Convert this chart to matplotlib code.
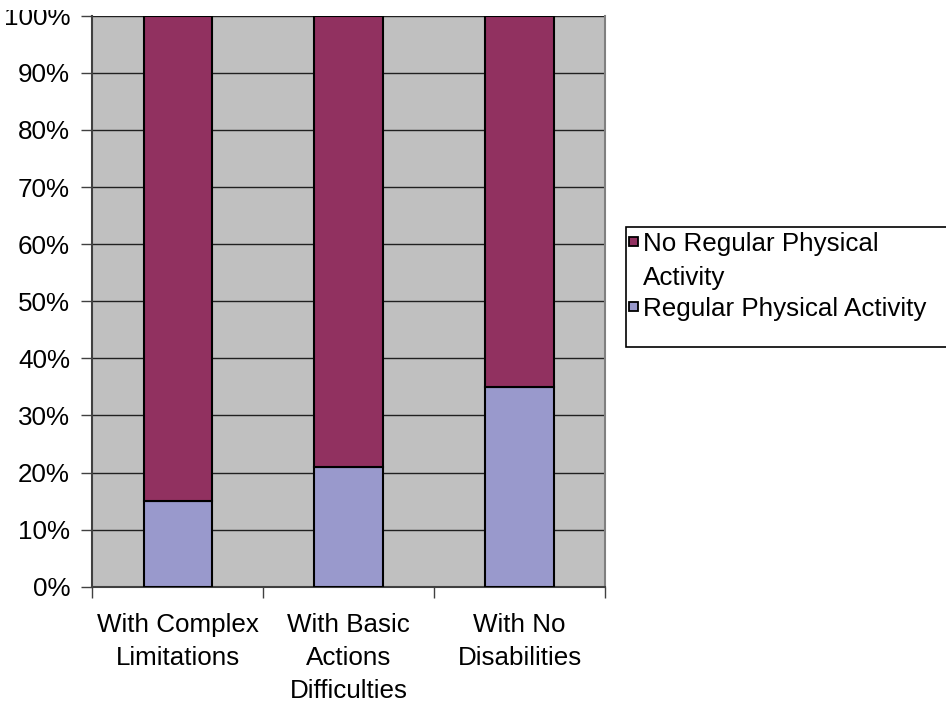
import matplotlib.pyplot as plt
import numpy as np
from matplotlib.patches import Rectangle

# Share of adults by disability status
groups = ["With Complex\nLimitations", "With Basic\nActions\nDifficulties", "With No\nDisabilities"]
regular = [15, 21, 35]
no_regular = [85, 79, 65]
series_names = ["No Regular Physical\nActivity", "Regular Physical Activity"]
series_colors = ["#913160", "#9999cc"]

plt.rcParams['font.family'] = ['Liberation Sans', 'DejaVu Sans']
fs = 18.7
W, H = 946, 702

fig = plt.figure(figsize=(W / 100, H / 100), dpi=100)
ax = fig.add_axes([92.3 / W, 1 - 586.7 / H, (605 - 92.3) / W, (586.7 - 15.7) / H])
ax.set_facecolor("#c0c0c0")

x = np.arange(len(groups))
ax.bar(x, regular, width=0.4, color=series_colors[1], edgecolor="black", linewidth=1.5, zorder=3)
ax.bar(x, no_regular, width=0.4, bottom=regular, color=series_colors[0], edgecolor="black",
       linewidth=1.5, zorder=3)

ax.set_xlim(-0.5, len(groups) - 0.5)
ax.set_ylim(0, 100)
ax.set_yticks(np.arange(0, 101, 10))
ax.set_yticklabels([f"{v}%" for v in range(0, 101, 10)], fontsize=fs)
ax.yaxis.grid(True, color="#202020", linewidth=1, zorder=0)
ax.set_axisbelow(True)

# boundary ticks between categories, labels on the centres
ax.set_xticks(np.arange(-0.5, len(groups), 1))
ax.set_xticklabels([])
ax.set_xticks(x, minor=True)
ax.set_xticklabels(groups, minor=True, fontsize=fs, linespacing=1.47, va="top")
ax.tick_params(axis="x", which="minor", length=0, pad=19)
ax.tick_params(axis="x", which="major", length=8, width=1, color="#404040")
ax.tick_params(axis="y", length=8, width=1, pad=8, color="#404040")

for s in ["left", "bottom"]:
    ax.spines[s].set_color("#404040")
    ax.spines[s].set_linewidth(1.5)
ax.spines["top"].set_visible(False)
ax.spines["right"].set_color("#808080")
ax.spines["right"].set_linewidth(1.5)

# top strip hides the upper part of the 100% label
fig.patches.append(Rectangle((0, 1 - 10 / H), 90 / W, 10 / H, transform=fig.transFigure,
                             facecolor="white", edgecolor="none", zorder=10))

# legend box, drawn by hand so each key sits on the first line of its label
fig.patches.append(Rectangle((626 / W, 1 - 347 / H), (960 - 626) / W, 120 / H,
                             transform=fig.transFigure, facecolor="white",
                             edgecolor="black", linewidth=1.2))
key_y = [241, 306]
for name, color, yy in zip(series_names, series_colors, key_y):
    fig.patches.append(Rectangle((629 / W, 1 - (yy + 4.5) / H), 9 / W, 9 / H,
                                 transform=fig.transFigure, facecolor=color,
                                 edgecolor="black", linewidth=1.3))
    fig.text(643 / W, 1 - (yy - 9) / H, name, fontsize=fs, va="top", ha="left",
             linespacing=1.5)

fig.savefig("out.png", dpi=100)
